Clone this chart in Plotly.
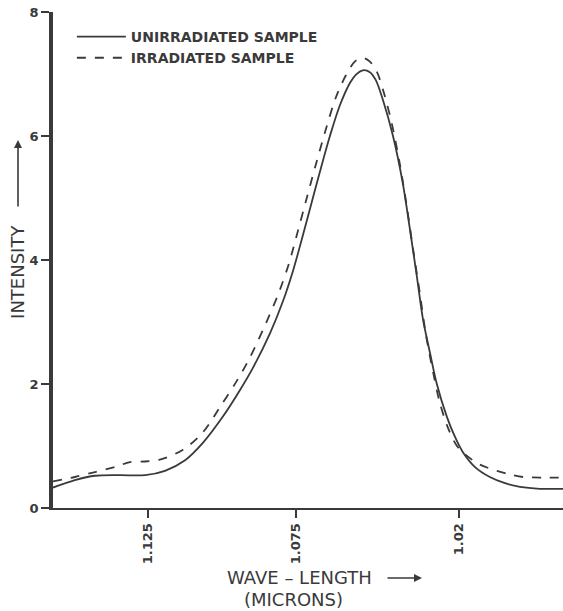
import plotly.graph_objects as go

# Wavelength (microns) and intensity readings
unirr_wl = [1.1571, 1.1497, 1.1429, 1.1345, 1.1260, 1.1193, 1.1125, 1.1065, 1.1001,
            1.0940, 1.0896, 1.0838, 1.0795, 1.0761, 1.0730, 1.0703, 1.0670, 1.0636,
            1.0602, 1.0568, 1.0548, 1.0525, 1.0501, 1.0481, 1.0457, 1.0423, 1.0390,
            1.0366, 1.0342, 1.0322, 1.0298, 1.0275, 1.0241, 1.0214, 1.0187, 1.0146,
            1.0096, 1.0045, 0.9994, 0.9927, 0.9849]
unirr_int = [0.33, 0.45, 0.52, 0.53, 0.53, 0.60, 0.77, 1.05, 1.45,
             1.90, 2.26, 2.82, 3.33, 3.82, 4.35, 4.83, 5.42, 6.00,
             6.50, 6.86, 6.99, 7.06, 7.03, 6.90, 6.58, 6.00, 5.24,
             4.50, 3.72, 3.05, 2.50, 2.00, 1.47, 1.15, 0.90, 0.66,
             0.50, 0.40, 0.34, 0.31, 0.31]

irr_wl = [1.1571, 1.1497, 1.1429, 1.1362, 1.1311, 1.1260, 1.1210, 1.1132, 1.1065,
          1.1007, 1.0953, 1.0909, 1.0852, 1.0808, 1.0774, 1.0744, 1.0717, 1.0683,
          1.0649, 1.0616, 1.0582, 1.0552, 1.0525, 1.0501, 1.0477, 1.0454, 1.0427,
          1.0400, 1.0376, 1.0356, 1.0332, 1.0312, 1.0288, 1.0265, 1.0238, 1.0207,
          1.0173, 1.0130, 1.0072, 1.0028, 0.9984, 0.9910, 0.9849]
irr_int = [0.43, 0.50, 0.58, 0.66, 0.74, 0.75, 0.78, 0.94, 1.22,
           1.63, 2.03, 2.40, 2.98, 3.48, 3.95, 4.47, 4.95, 5.55,
           6.12, 6.62, 6.98, 7.20, 7.26, 7.20, 7.03, 6.70, 6.20,
           5.55, 4.85, 4.20, 3.45, 2.80, 2.20, 1.70, 1.30, 1.00,
           0.84, 0.70, 0.60, 0.54, 0.50, 0.49, 0.49]

x_tickvals = [1.125, 1.075, 1.02]
x_ticktext = ["1.125", "1.075", "1.02"]
y_tickvals = [0, 2, 4, 6, 8]

ink = "#3a3a3a"
FONT = "DejaVu Sans"
bold = dict(family=FONT, color=ink, weight="bold")

fig = go.Figure()
fig.add_trace(go.Scatter(x=unirr_wl, y=unirr_int, mode="lines", name="UNIRRADIATED SAMPLE",
                         line=dict(color=ink, width=1.8, shape="spline", smoothing=0.9)))
fig.add_trace(go.Scatter(x=irr_wl, y=irr_int, mode="lines", name="IRRADIATED SAMPLE",
                         line=dict(color=ink, width=1.8, dash="dash", shape="spline", smoothing=0.9)))

fig.update_layout(
    width=563, height=611,
    margin=dict(l=53, r=0, t=12, b=103),
    paper_bgcolor="white", plot_bgcolor="white",
    font=dict(family=FONT, color=ink),
    showlegend=True,
    legend=dict(x=0.037, y=0.982, xanchor="left", yanchor="top", itemwidth=49,
                bgcolor="rgba(0,0,0,0)", font=dict(size=14, **bold),
                tracegroupgap=0),
    xaxis=dict(range=[1.1571, 0.9849], tickvals=x_tickvals, ticktext=x_ticktext,
               tickangle=-90, ticks="outside", ticklen=8, tickwidth=1.5, tickcolor=ink,
               showline=True, linecolor=ink, linewidth=2, showgrid=False, zeroline=False,
               tickfont=dict(size=13, **bold)),
    yaxis=dict(range=[0, 8], tickvals=y_tickvals, ticks="outside", ticklen=8, tickwidth=1.5,
               tickcolor=ink, showline=True, linecolor=ink, linewidth=3.5, showgrid=False,
               zeroline=False, tickfont=dict(size=13, **bold)),
)

annos = [
    dict(text="INTENSITY", x=-0.0686, y=0.476, xref="paper", yref="paper", showarrow=False,
         xanchor="center", yanchor="middle",
         textangle=-90, font=dict(size=18, family=FONT, color=ink)),
    dict(text="", x=-0.0686, y=0.742, xref="paper", yref="paper", showarrow=True,
         ax=0, ay=68, arrowhead=2, arrowsize=1, arrowwidth=1.6, arrowcolor=ink),
    dict(text="WAVE – LENGTH", x=0.484, y=-0.141, xref="paper", yref="paper", showarrow=False,
         xanchor="center", yanchor="middle",
         font=dict(size=18, family=FONT, color=ink)),
    dict(text="", x=0.7235, y=-0.141, xref="paper", yref="paper", showarrow=True,
         ax=-36, ay=0, arrowhead=2, arrowsize=1, arrowwidth=1.6, arrowcolor=ink),
    dict(text="(MICRONS)", x=0.4725, y=-0.185, xref="paper", yref="paper", showarrow=False,
         xanchor="center", yanchor="middle",
         font=dict(size=18, family=FONT, color=ink)),
]
fig.update_layout(annotations=annos)

fig.write_html("out.html")
